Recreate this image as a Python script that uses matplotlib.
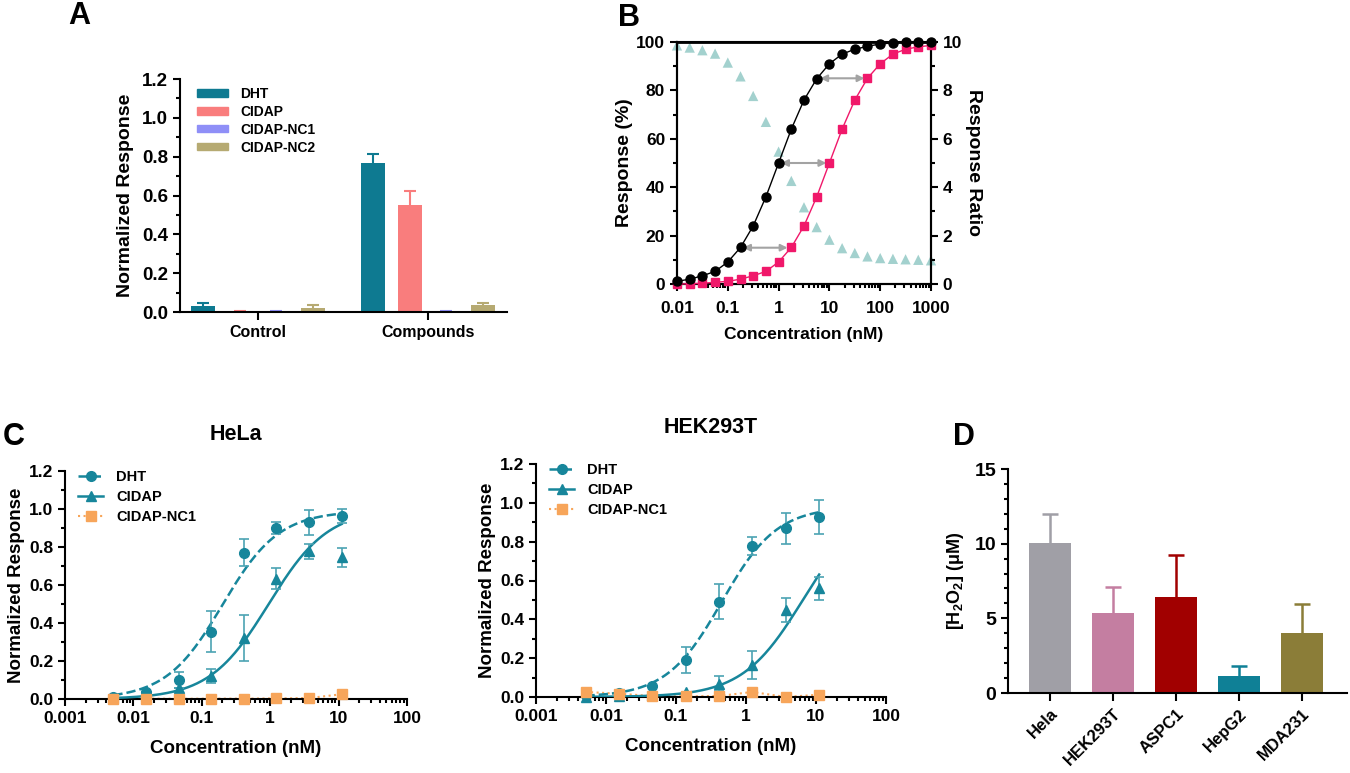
import numpy as np
import matplotlib
matplotlib.use("Agg")
import matplotlib.pyplot as plt
from matplotlib.ticker import FixedLocator, MultipleLocator, LogLocator, NullFormatter
from matplotlib.lines import Line2D
from matplotlib.patches import Patch

plt.rcParams['font.family'] = ['Liberation Sans', 'DejaVu Sans']
plt.rcParams['font.weight'] = 'bold'
plt.rcParams['axes.labelweight'] = 'bold'
plt.rcParams['axes.linewidth'] = 1.5
plt.rcParams['mathtext.fontset'] = 'custom'
plt.rcParams['mathtext.rm'] = 'Liberation Sans:bold'
plt.rcParams['mathtext.bf'] = 'Liberation Sans:bold'

# ---- panel A data
a_groups = ["Control", "Compounds"]
a_series = ["DHT", "CIDAP", "CIDAP-NC1", "CIDAP-NC2"]
a_colors = ["#0E7A91", "#F97D7D", "#8F8FF7", "#B6AA72"]
a_vals = [[0.033, 0.766], [0.006, 0.549], [0.004, 0.006], [0.021, 0.037]]
a_errs = [[0.013, 0.048], [0.0, 0.075], [0.0, 0.0], [0.013, 0.009]]

# ---- panel B data
b_conc = [0.01, 0.0178, 0.0316, 0.0562, 0.1, 0.178, 0.316, 0.562, 1, 1.78, 3.16,
          5.62, 10, 17.8, 31.6, 56.2, 100, 178, 316, 562, 1000]
b_black = [1.1, 2.0, 3.4, 5.2, 9.1, 15.1, 24, 36, 50, 64, 76,
           84.8, 91, 95, 97, 98.2, 99.2, 99.6, 99.9, 99.9, 100]
b_pink = [0.0, 0.1, 0.3, 0.7, 1.1, 2.0, 3.4, 5.2, 9.1, 15.1, 24,
          36, 50, 64, 76, 85, 91, 95, 97, 98, 98.6]
b_ratio = [9.86, 9.77, 9.66, 9.52, 9.15, 8.58, 7.77, 6.7, 5.47, 4.26, 3.17,
           2.35, 1.83, 1.48, 1.28, 1.14, 1.07, 1.04, 1.02, 1.0, 0.98]
b_arrows = [(0.2, 1.5, 15), (1.12, 8.7, 50), (6.6, 49, 85)]

# ---- panel C data
c_conc = [0.0051, 0.0152, 0.0457, 0.137, 0.41, 1.23, 3.7, 11.1]
hela_dht = [0.012, 0.039, 0.10, 0.354, 0.77, 0.90, 0.93, 0.964]
hela_dht_err = [0.0, 0.0, 0.04, 0.107, 0.07, 0.03, 0.067, 0.037]
hela_cidap = [0.004, 0.015, 0.056, 0.12, 0.32, 0.634, 0.778, 0.745]
hela_cidap_err = [0.0, 0.0, 0.0, 0.037, 0.12, 0.055, 0.04, 0.05]
hela_nc1 = [0.0, 0.002, 0.001, 0.002, 0.002, 0.003, 0.005, 0.025]
hek_dht = [0.009, 0.022, 0.055, 0.19, 0.49, 0.778, 0.87, 0.926]
hek_dht_err = [0.0, 0.0, 0.0, 0.067, 0.09, 0.047, 0.08, 0.087]
hek_cidap = [0.0, 0.003, 0.01, 0.025, 0.069, 0.164, 0.448, 0.56]
hek_cidap_err = [0.0, 0.0, 0.0, 0.0, 0.037, 0.073, 0.062, 0.06]
hek_nc1 = [0.026, 0.017, 0.005, 0.003, 0.005, 0.026, 0.0, 0.012]
# fitted curve parameters (top, EC50, hill)
hela_dht_fit = (0.99, 0.2, 1.05)
hela_cidap_fit = (1.0, 0.95, 1.0)
hek_dht_fit = (0.98, 0.45, 1.1)
hek_cidap_fit = (1.0, 6.5, 1.0)

# ---- panel D data
d_cells = ["Hela", "HEK293T", "ASPC1", "HepG2", "MDA231"]
d_vals = [10.03, 5.35, 6.40, 1.14, 4.01]
d_errs = [1.94, 1.76, 2.85, 0.64, 1.96]
d_colors = ["#A09FA6", "#C47EA1", "#A10000", "#0F8096", "#8B7D38"]

W, H = 1350, 773
fig = plt.figure(figsize=(W / 100, H / 100), dpi=100)


def box(l, t, r, b):
    return [l / W, 1 - b / H, (r - l) / W, (b - t) / H]


def style(ax, fs=10):
    ax.tick_params(which='major', direction='out', width=1.5, length=5, labelsize=fs)
    ax.tick_params(which='minor', direction='out', width=1.5, length=3)


def up_err(ax, x, y, e, color, lw, cap):
    # only the upper half of the error bar, drawn behind the bar
    _, caps, _ = ax.errorbar(x, y, yerr=[[0] * len(x), e], fmt='none', ecolor=color,
                             elinewidth=lw, capsize=cap, capthick=lw, zorder=1)
    caps[0].set_visible(False)


# ================= A
axA = fig.add_axes(box(180, 79, 507, 312))
gx = np.arange(len(a_groups))
step = 0.216
for i, name in enumerate(a_series):
    xs = gx + (i - 1.5) * step
    axA.bar(xs, a_vals[i], width=0.14, color=a_colors[i], label=name, zorder=2)
    up_err(axA, xs, a_vals[i], a_errs[i], a_colors[i], 1.5, 4)
axA.set_xlim(-0.46, 1.465)
axA.set_ylim(0, 1.2)
axA.set_xticks(gx)
axA.yaxis.set_major_locator(MultipleLocator(0.2))
axA.yaxis.set_minor_locator(MultipleLocator(0.1))
axA.yaxis.set_major_formatter(plt.FormatStrFormatter('%.1f'))
for s in ['top', 'right']:
    axA.spines[s].set_visible(False)
style(axA, 13.5)
axA.set_xticklabels(a_groups, fontsize=11.5)
axA.tick_params(axis='x', length=6)
axA.set_ylabel("Normalized Response", fontsize=14, labelpad=6)
axA.legend(handles=[Patch(color=c, label=n) for c, n in zip(a_colors, a_series)],
           loc='upper left', bbox_to_anchor=(0.015, 1.02), frameon=False, fontsize=10,
           handlelength=2.2, handleheight=0.45, labelspacing=0.28, handletextpad=0.9)

# ================= B
axB = fig.add_axes(box(677, 42, 931, 284))
axB2 = axB.twinx()
axB2.scatter(b_conc, b_ratio, marker='^', s=55, color='#A3D1CE', edgecolors='none',
             clip_on=False, zorder=1)
axB2.set_ylim(0, 10)
axB.set_zorder(axB2.get_zorder() + 1)
axB.patch.set_visible(False)
axB.plot(b_conc, b_black, '-', color='black', lw=1, marker='o', ms=6.5, clip_on=False, zorder=4)
axB.plot(b_conc, b_pink, '-', color='#F0186A', lw=1, marker='s', ms=6, clip_on=False, zorder=3)
for x1, x2, y in b_arrows:
    axB.annotate('', xy=(x2, y), xytext=(x1, y),
                 arrowprops=dict(arrowstyle='<|-|>', color='#A3A3A3', lw=1.5, mutation_scale=10,
                                 shrinkA=0, shrinkB=0))
axB.set_xscale('log')
axB.set_xlim(0.01, 1000)
axB.set_ylim(0, 100)
axB.xaxis.set_major_locator(FixedLocator([0.01, 0.1, 1, 10, 100, 1000]))
axB.xaxis.set_minor_locator(LogLocator(base=10, subs=np.arange(2, 10), numticks=20))
axB.xaxis.set_minor_formatter(NullFormatter())
axB.yaxis.set_major_locator(MultipleLocator(20))
axB.yaxis.set_minor_locator(MultipleLocator(10))
axB2.yaxis.set_major_locator(MultipleLocator(2))
axB2.yaxis.set_minor_locator(MultipleLocator(1))
style(axB, 12.5)
style(axB2, 12.5)
axB.tick_params(axis='x', pad=7)
axB.set_xticklabels(["0.01", "0.1", "1", "10", "100", "1000"])
axB.tick_params(axis='y', which='both', right=False)
axB.spines['top'].set_linewidth(2)
axB.set_ylabel("Response (%)", fontsize=14, labelpad=2)
axB.set_xlabel("Concentration (nM)", fontsize=12.5, labelpad=8)
axB2.set_ylabel("Response Ratio", fontsize=14, rotation=270, labelpad=14)


# ================= C
def hill(p, x):
    top, ec50, n = p
    return top / (1 + (ec50 / x) ** n)


teal = '#17869B'
teal_err = '#4BA3B3'
orange = '#F7A55A'


def panelC(rect, title, dht, dht_err, cidap, cidap_err, nc1, fit_d, fit_c):
    ax = fig.add_axes(rect)
    xf = np.logspace(np.log10(c_conc[0]), np.log10(c_conc[-1]), 200)
    ax.plot(xf, hill(fit_d, xf), '--', color=teal, lw=1.8, zorder=3)
    ax.plot(xf, hill(fit_c, xf), '-', color=teal, lw=1.8, zorder=3)
    ax.plot(c_conc, nc1, ':', color=orange, lw=1.5, zorder=2)
    ax.errorbar(c_conc, dht, yerr=dht_err, fmt='o', color=teal, ecolor=teal_err, ms=7,
                elinewidth=1.2, capsize=3.5, capthick=1.2, clip_on=False, zorder=4)
    ax.errorbar(c_conc, cidap, yerr=cidap_err, fmt='^', color=teal, ecolor=teal_err, ms=7,
                elinewidth=1.2, capsize=3.5, capthick=1.2, clip_on=False, zorder=4)
    ax.plot(c_conc, nc1, 's', color=orange, ms=7, clip_on=False, zorder=5)
    ax.set_xscale('log')
    ax.set_xlim(0.001, 100)
    ax.set_ylim(0, 1.2)
    ax.xaxis.set_major_locator(FixedLocator([0.001, 0.01, 0.1, 1, 10, 100]))
    ax.xaxis.set_minor_locator(LogLocator(base=10, subs=np.arange(2, 10), numticks=20))
    ax.xaxis.set_minor_formatter(NullFormatter())
    ax.yaxis.set_major_locator(MultipleLocator(0.2))
    ax.yaxis.set_minor_locator(MultipleLocator(0.1))
    ax.yaxis.set_major_formatter(plt.FormatStrFormatter('%.1f'))
    for s in ['top', 'right']:
        ax.spines[s].set_visible(False)
    style(ax, 12.5)
    ax.set_xticklabels(["0.001", "0.01", "0.1", "1", "10", "100"])
    ax.set_ylabel("Normalized Response", fontsize=13.5, labelpad=3)
    ax.set_xlabel("Concentration (nM)", fontsize=13.5, labelpad=10)
    ax.set_title(title, fontsize=15.5, fontweight='bold', pad=22)
    handles = [Line2D([], [], ls='--', color=teal, marker='o', ms=7, lw=1.8),
               Line2D([], [], ls='-', color=teal, marker='^', ms=7, lw=1.8),
               Line2D([], [], ls=':', color=orange, marker='s', ms=7, lw=1.5)]
    ax.legend(handles, ["DHT", "CIDAP", "CIDAP-NC1"], loc='upper left',
              bbox_to_anchor=(0.0, 1.06), frameon=False, fontsize=10.5,
              handlelength=1.7, labelspacing=0.4, handletextpad=0.9)
    return ax


panelC(box(65, 471, 407, 699), "HeLa", hela_dht, hela_dht_err, hela_cidap, hela_cidap_err,
       hela_nc1, hela_dht_fit, hela_cidap_fit)
panelC(box(536, 464, 886, 697), "HEK293T", hek_dht, hek_dht_err, hek_cidap, hek_cidap_err,
       hek_nc1, hek_dht_fit, hek_cidap_fit)

# ================= D
axD = fig.add_axes(box(1008, 469, 1347, 693))
xd = np.arange(len(d_cells))
axD.bar(xd, d_vals, width=0.66, color=d_colors, zorder=2)
for i in range(len(d_cells)):
    up_err(axD, [xd[i]], [d_vals[i]], [d_errs[i]], d_colors[i], 1.8, 6)
axD.set_xlim(-0.667, 4.71)
axD.set_ylim(0, 15)
axD.set_xticks(xd)
axD.yaxis.set_major_locator(MultipleLocator(5))
axD.yaxis.set_minor_locator(MultipleLocator(1))
for s in ['top', 'right']:
    axD.spines[s].set_visible(False)
style(axD, 14)
axD.set_xticklabels(d_cells, rotation=45, ha='right', rotation_mode='anchor', fontsize=12)
axD.tick_params(axis='x', length=6)
axD.set_ylabel(r"[H$_{\mathbf{2}}$O$_{\mathbf{2}}$] (μM)", fontsize=13, labelpad=6)

# panel letters
for ch, x, y in [("A", 79, 16), ("B", 629, 18), ("C", 14, 437), ("D", 964, 437)]:
    fig.text(x / W, 1 - y / H, ch, fontsize=22, fontweight='bold', ha='center', va='center')

fig.savefig("out.png", dpi=100)
